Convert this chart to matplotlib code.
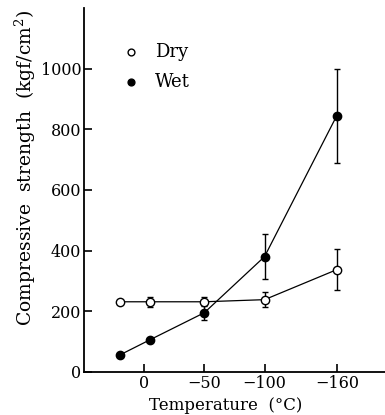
import matplotlib
matplotlib.use("Agg")
import matplotlib.pyplot as plt

# Temperatures (°C) and compressive strength (kgf/cm²)
temps = [20, -5, -50, -100, -160]
dry = [231, 231, 231, 238, 337]
dry_err = [0, 17, 15, 25, 68]
wet = [56, 106, 195, 380, 845]
wet_err = [0, 0, 25, 75, 155]

x_ticks = [0, -50, -100, -160]
x_tick_labels = ["0", "\u221250", "\u2212100", "\u2212160"]
y_ticks = [0, 200, 400, 600, 800, 1000]

plt.rcParams["font.family"] = ["DejaVu Serif"]
plt.rcParams["mathtext.fontset"] = "dejavuserif"

fig = plt.figure(figsize=(3.85, 4.15), dpi=100)
ax = fig.add_axes([0.218, 0.104, 0.782, 0.877])

style = dict(fmt="o-", color="black", mec="black", ms=6, mew=1.0, lw=0.9,
             elinewidth=1.0, capsize=2.5, capthick=1.0, zorder=3)
ax.errorbar(temps, dry, yerr=dry_err, mfc="white", **style)
ax.errorbar(temps, wet, yerr=wet_err, mfc="black", **style)

ax.set_xlim(50, -200)
ax.set_ylim(0, 1200)
ax.set_xticks(x_ticks)
ax.set_xticklabels(x_tick_labels)
ax.set_yticks(y_ticks)
ax.set_yticklabels([str(v) for v in y_ticks])

for s in ("top", "right"):
    ax.spines[s].set_visible(False)
for s in ("left", "bottom"):
    ax.spines[s].set_linewidth(1.3)

ax.tick_params(direction="in", length=6, width=1.2, labelsize=11.5, pad=2)

ax.set_xlabel("Temperature  (°C)", fontsize=12)
ax.xaxis.set_label_coords(0.47, -0.068)
ax.set_ylabel("Compressive  strength  (kgf/cm$^2$)", fontsize=13.5)
ax.yaxis.set_label_coords(-0.153, 0.56)

# legend: marker symbols with their labels
ax.scatter([11], [1053], s=24, facecolors="white", edgecolors="black",
           linewidths=1.0, zorder=4)
ax.scatter([11], [957], s=24, facecolors="black", edgecolors="black",
           linewidths=1.0, zorder=4)
ax.text(-9, 1053, "Dry", va="center", ha="left", fontsize=13)
ax.text(-9, 957, "Wet", va="center", ha="left", fontsize=13)

fig.savefig("out.png", dpi=100)
